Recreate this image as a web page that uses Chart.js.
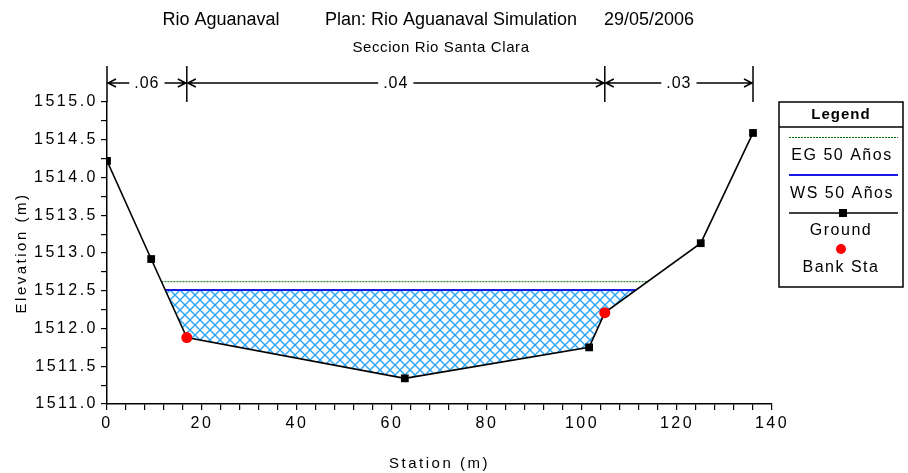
<!DOCTYPE html>
<html>
<head>
<meta charset="utf-8">
<script src="https://cdn.jsdelivr.net/npm/chart.js@4/dist/chart.umd.min.js"></script>
<style>
  html, body { margin: 0; padding: 0; background: #fff; }
  #c { display: block; }
</style>
</head>
<body>
<canvas id="c" width="908" height="473"></canvas>
<script>
// cross section data
const stations = [0, 9.3, 16.8, 62.7, 101.5, 104.8, 125, 136];
const groundElev = [1514.22, 1512.92, 1511.88, 1511.34, 1511.75, 1512.21, 1513.13, 1514.59];
const bankStations = [16.8, 104.8];
const wsElev = 1512.51;   // WS 50 Años
const egElev = 1512.62;   // EG 50 Años
const nBreaks = [0, 16.8, 104.8, 136];
const nValues = ['.06', '.04', '.03'];
const titleParts = ['Rio Aguanaval', 'Plan: Rio Aguanaval Simulation', '29/05/2006'];
const subTitle = 'Seccion Rio Santa Clara';
const legendLabels = ['EG 50 Años', 'WS 50 Años', 'Ground', 'Bank Sta'];

const FONT = '"Liberation Sans", Arial, sans-serif';
const SPACING = '2.5px';

function groundAt(x) {
  for (let i = 0; i < stations.length - 1; i++) {
    if (x >= stations[i] && x <= stations[i + 1]) {
      const t = (x - stations[i]) / (stations[i + 1] - stations[i]);
      return groundElev[i] + t * (groundElev[i + 1] - groundElev[i]);
    }
  }
  return null;
}

// where a level meets the ground on each side
function crossings(level) {
  let left = null, right = null;
  for (let i = 0; i < stations.length - 1; i++) {
    const a = groundElev[i], b = groundElev[i + 1];
    if ((a - level) * (b - level) <= 0 && a !== b) {
      const x = stations[i] + (level - a) / (b - a) * (stations[i + 1] - stations[i]);
      if (left === null && a > b) left = x;
      if (b > a) right = x;
    }
  }
  return [left, right];
}

const [wsL, wsR] = crossings(wsElev);
const [egL, egR] = crossings(egElev);

const waterPts = [{ x: wsL, y: wsElev }];
stations.forEach((s, i) => {
  if (s > wsL && s < wsR) waterPts.push({ x: s, y: groundElev[i] });
});
waterPts.push({ x: wsR, y: wsElev });

const groundPts = stations.map((s, i) => ({ x: s, y: groundElev[i] }));
const bankPts = bankStations.map(s => ({ x: s, y: groundAt(s) }));

// blue cross hatch for the water
function makeHatch() {
  const pc = document.createElement('canvas');
  pc.width = 10; pc.height = 10;
  const p = pc.getContext('2d');
  p.strokeStyle = '#2aa6f7';
  p.lineWidth = 1.4;
  for (const o of [-10, 0, 10]) {
    p.beginPath(); p.moveTo(o, 0); p.lineTo(o + 10, 10); p.stroke();
    p.beginPath(); p.moveTo(o, 10); p.lineTo(o + 10, 0); p.stroke();
  }
  return document.getElementById('c').getContext('2d').createPattern(pc, 'repeat');
}

const decorPlugin = {
  id: 'decor',
  beforeLayout(chart) { chart.ctx.letterSpacing = SPACING; },
  beforeDraw(chart) { chart.ctx.letterSpacing = SPACING; },
  afterDraw(chart) {
    const ctx = chart.ctx;
    const xs = chart.scales.x;
    ctx.save();

    // titles
    ctx.fillStyle = '#000';
    ctx.textAlign = 'center';
    ctx.textBaseline = 'middle';
    ctx.letterSpacing = '0px';
    ctx.font = '18px ' + FONT;
    ctx.fillText(titleParts[0], 221, 20);
    ctx.fillText(titleParts[1], 451, 20);
    ctx.fillText(titleParts[2], 649, 20);
    ctx.letterSpacing = '0.6px';
    ctx.font = '15px ' + FONT;
    ctx.fillText(subTitle, 441, 48);

    // manning's n bar
    ctx.strokeStyle = '#000';
    ctx.lineWidth = 1.5;
    const yTop = 66, yBot = chart.chartArea.top, yArr = 83;
    const px = nBreaks.map(s => xs.getPixelForValue(s));
    px.forEach(p => {
      ctx.beginPath(); ctx.moveTo(p, yTop); ctx.lineTo(p, yBot); ctx.stroke();
    });
    ctx.font = '16px ' + FONT;
    ctx.letterSpacing = '1px';
    nValues.forEach((v, i) => {
      const a = px[i] + 1, b = px[i + 1] - 1, m = (a + b) / 2;
      const w = ctx.measureText(v).width / 2 + 5;
      ctx.fillText(v, m, yArr + 1);
      ctx.beginPath();
      ctx.moveTo(a, yArr); ctx.lineTo(m - w, yArr);
      ctx.moveTo(m + w, yArr); ctx.lineTo(b, yArr);
      ctx.moveTo(a + 8, yArr - 4); ctx.lineTo(a, yArr); ctx.lineTo(a + 8, yArr + 4);
      ctx.moveTo(b - 8, yArr - 4); ctx.lineTo(b, yArr); ctx.lineTo(b - 8, yArr + 4);
      ctx.stroke();
    });

    // legend box
    const L = 779, R = 903, T = 102, B = 287, cx = (L + R) / 2;
    ctx.lineWidth = 1.5;
    ctx.strokeRect(L, T, R - L, B - T);
    ctx.beginPath(); ctx.moveTo(L, 127); ctx.lineTo(R, 127); ctx.stroke();
    ctx.font = 'bold 15px ' + FONT;
    ctx.letterSpacing = '1px';
    ctx.fillText('Legend', cx, 115);
    ctx.font = '16px ' + FONT;
    ctx.letterSpacing = '1.5px';
    const rows = [137, 156, 175, 194, 213, 231, 249, 268];
    // EG
    ctx.save();
    ctx.strokeStyle = '#007000'; ctx.lineWidth = 1; ctx.setLineDash([2, 1]);
    ctx.beginPath(); ctx.moveTo(L + 10, rows[0] + 0.5); ctx.lineTo(R - 5, rows[0] + 0.5); ctx.stroke();
    ctx.restore();
    ctx.fillText(legendLabels[0], cx + 1, rows[1]);
    // WS
    ctx.strokeStyle = '#1a1ae6'; ctx.lineWidth = 2;
    ctx.beginPath(); ctx.moveTo(L + 10, rows[2]); ctx.lineTo(R - 5, rows[2]); ctx.stroke();
    ctx.fillText(legendLabels[1], cx + 1, rows[3]);
    // Ground
    ctx.strokeStyle = '#000'; ctx.lineWidth = 1.5;
    ctx.beginPath(); ctx.moveTo(L + 10, rows[4]); ctx.lineTo(R - 5, rows[4]); ctx.stroke();
    ctx.fillStyle = '#000';
    ctx.fillRect(cx + 2 - 4, rows[4] - 4, 8, 8);
    ctx.fillText(legendLabels[2], cx, rows[5]);
    // Bank
    ctx.fillStyle = '#ff0000';
    ctx.beginPath(); ctx.arc(cx, rows[6], 5, 0, Math.PI * 2); ctx.fill();
    ctx.fillStyle = '#000';
    ctx.fillText(legendLabels[3], cx, rows[7]);

    ctx.restore();
    ctx.letterSpacing = SPACING;
  }
};

new Chart(document.getElementById('c'), {
  type: 'line',
  data: {
    datasets: [
      {
        label: 'Bank Sta',
        data: bankPts,
        showLine: false,
        pointStyle: 'circle',
        pointRadius: 5.5,
        pointBackgroundColor: '#ff0000',
        pointBorderWidth: 0
      },
      {
        label: 'Ground',
        data: groundPts,
        borderColor: '#000',
        borderWidth: 1.6,
        pointStyle: 'rect',
        pointRadius: 5.5,
        pointBackgroundColor: '#000',
        pointBorderWidth: 0,
        fill: false
      },
      {
        label: 'WS 50 Años',
        data: [{ x: wsL, y: wsElev }, { x: wsR, y: wsElev }],
        borderColor: '#1a1ae6',
        borderWidth: 2,
        pointRadius: 0,
        fill: false
      },
      {
        label: 'EG 50 Años',
        data: [{ x: egL, y: egElev }, { x: egR, y: egElev }],
        borderColor: '#007000',
        borderWidth: 1,
        borderDash: [2, 1],
        pointRadius: 0,
        fill: false
      },
      {
        label: 'water',
        data: waterPts,
        borderWidth: 0,
        borderColor: 'rgba(0,0,0,0)',
        pointRadius: 0,
        backgroundColor: makeHatch(),
        fill: { value: wsElev }
      }
    ]
  },
  options: {
    responsive: false,
    devicePixelRatio: 1,
    animation: false,
    layout: { padding: { left: 0, right: 136, top: 102, bottom: 0 } },
    plugins: {
      legend: { display: false },
      tooltip: { enabled: false },
      title: { display: false }
    },
    scales: {
      x: {
        type: 'linear',
        min: 0,
        max: 140,
        afterFit(s) { s.height = 69; },
        border: { color: '#000', width: 1.5 },
        grid: { drawOnChartArea: false, color: '#000', tickLength: 6, lineWidth: 1.2 },
        ticks: {
          stepSize: 4,
          autoSkip: false,
          maxRotation: 0,
          padding: 4,
          color: '#000',
          font: { family: FONT, size: 16 },
          callback: v => (v % 20 === 0 ? String(v) : '')
        },
        title: {
          display: true,
          text: 'Station (m)',
          color: '#000',
          font: { family: FONT, size: 15 },
          padding: { top: 0, bottom: 0 }
        }
      },
      y: {
        min: 1511,
        max: 1515,
        afterFit(s) { s.width = 107; },
        border: { color: '#000', width: 1.5 },
        grid: { drawOnChartArea: false, color: '#000', tickLength: 6, lineWidth: 1.2 },
        ticks: {
          stepSize: 0.25,
          autoSkip: false,
          padding: 3,
          color: '#000',
          font: { family: FONT, size: 16 },
          callback: v => (Math.abs(v * 2 - Math.round(v * 2)) < 1e-6 ? v.toFixed(1) : '')
        },
        title: {
          display: true,
          text: 'Elevation (m)',
          color: '#000',
          font: { family: FONT, size: 15 },
          padding: { top: 13, bottom: 0 }
        }
      }
    }
  },
  plugins: [decorPlugin]
});
</script>
</body>
</html>
